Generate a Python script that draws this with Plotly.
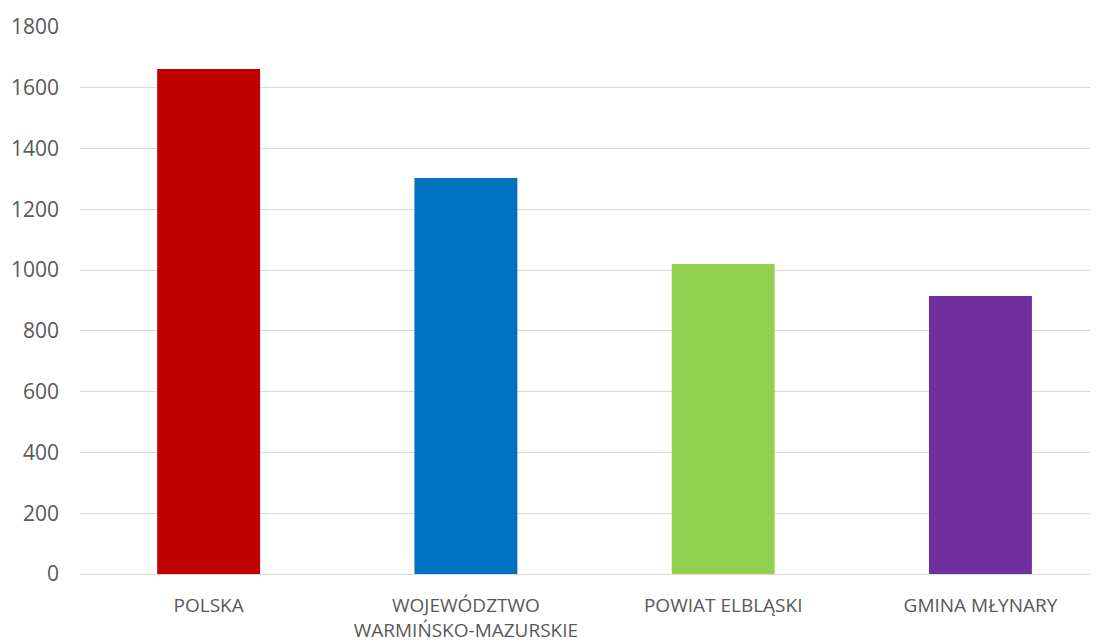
import plotly.graph_objects as go

categories = ["POLSKA", "WOJEWÓDZTWO<br>WARMIŃSKO-MAZURSKIE", "POWIAT ELBLĄSKI", "GMINA MŁYNARY"]
values = [1662, 1303, 1020, 915]
colors = ["#C00000", "#0070C0", "#92D050", "#7030A0"]
yticks = [0, 200, 400, 600, 800, 1000, 1200, 1400, 1600, 1800]

fig = go.Figure(go.Bar(x=list(range(len(categories))), y=values, marker_color=colors,
                       marker_line_width=0, width=0.4))
fig.update_layout(
    width=1098, height=636,
    margin=dict(l=72, r=0, t=19, b=70),
    paper_bgcolor="white", plot_bgcolor="white",
    font=dict(family="Open Sans, Liberation Sans, sans-serif", color="#595959", size=18),
    showlegend=False,
    bargap=0.6,
)
fig.update_xaxes(tickmode="array", tickvals=list(range(len(categories))), ticktext=categories,
                 range=[-0.5, 3.488], showgrid=False, zeroline=False, showline=False,
                 tickfont=dict(size=19, color="#595959"), ticks="", ticklabelstandoff=18)
fig.update_yaxes(range=[0, 1800], tickvals=yticks, showgrid=True, gridcolor="#D9D9D9",
                 gridwidth=1, zeroline=True, zerolinecolor="#D9D9D9", zerolinewidth=1,
                 tickfont=dict(size=21, color="#595959"), ticklabelstandoff=20, showline=False)
fig.write_html("out.html")
